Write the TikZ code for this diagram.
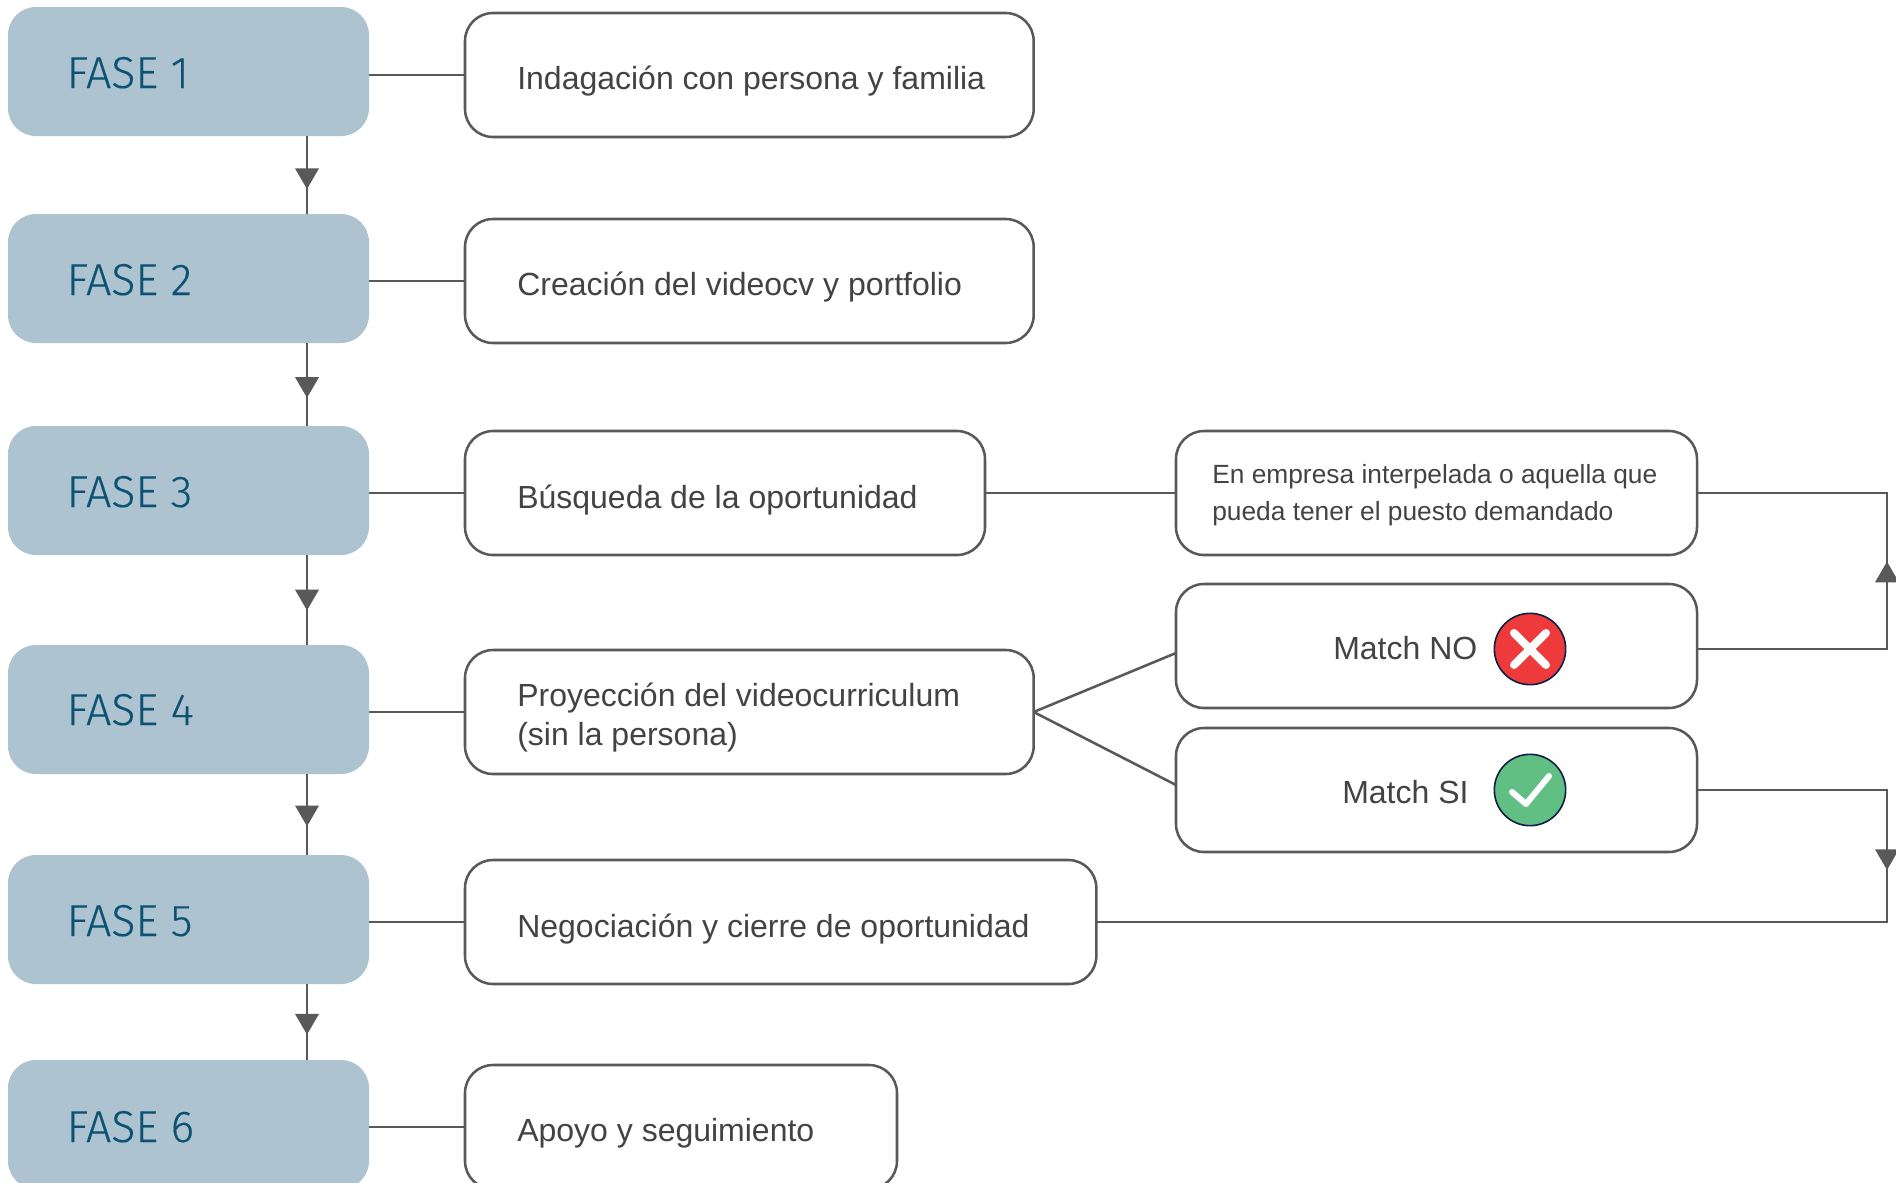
\documentclass[tikz,border=0pt]{standalone}
\usepackage{fontspec}
\setmainfont{Liberation Sans}
\newfontfamily\fasefont[FakeBold=0.2]{Fira Sans Light}
\usetikzlibrary{arrows.meta,decorations.markings}
\definecolor{linecol}{HTML}{595959}
\definecolor{fasefill}{HTML}{ADC3CF}
\definecolor{fasetext}{HTML}{0B5274}
\definecolor{bodytext}{HTML}{434343}
\definecolor{navyring}{HTML}{0F1F45}
\definecolor{nored}{HTML}{EE3A3A}
\definecolor{sigreen}{HTML}{61BF84}
\tikzset{
  x=0.75pt,y=-0.75pt,
  fasebox/.style={rectangle,rounded corners=21pt,fill=fasefill,anchor=north west,inner sep=0pt,outer sep=0pt,minimum width=270.75pt,minimum height=96.75pt},
  whitebox/.style={rectangle,rounded corners=21pt,draw=linecol,line width=1.9pt,fill=white,anchor=north west,inner sep=0pt,outer sep=0pt,minimum height=93pt},
  conn/.style={draw=linecol,line width=1.9pt},
  fasetxt/.style={anchor=base west,inner sep=0pt,text=fasetext,font=\fasefont\fontsize{33.5pt}{38pt}\selectfont},
  bodytxt/.style={anchor=base west,inner sep=0pt,text=bodytext,font=\fontsize{24pt}{30pt}\selectfont},
  smalltxt/.style={anchor=base west,inner sep=0pt,text=bodytext,font=\fontsize{19.75pt}{26pt}\selectfont},
  icon/.style={circle,draw=navyring,line width=1.2pt,minimum size=53.5pt,inner sep=0pt,outer sep=0pt},
  tipat/.style={postaction={decorate},decoration={markings,mark=at position #1 with {\arrow[line width=0pt,fill=linecol,draw=linecol]{Triangle[length=15.5pt,width=18pt]}}}},
}
\begin{document}
\begin{tikzpicture}
\path[use as bounding box,clip] (0,0) rectangle (1896,1182);
\fill[white] (0,0) rectangle (1896,1182);
% phases
\node[fasebox] (f1) at (8,7) {};
\node[fasebox] (f2) at (8,214) {};
\node[fasebox] (f3) at (8,426) {};
\node[fasebox] (f4) at (8,645) {};
\node[fasebox] (f5) at (8,855) {};
\node[fasebox] (f6) at (8,1060) {};
\node[fasetxt] (t1) at (66.5,88) {FASE 1};
\node[fasetxt] (t2) at (66.5,295) {FASE 2};
\node[fasetxt] (t3) at (66.5,507) {FASE 3};
\node[fasetxt] (t4) at (66.5,725) {FASE 4};
\node[fasetxt] (t5) at (66.5,936) {FASE 5};
\node[fasetxt] (t6) at (66.5,1142) {FASE 6};
% white boxes
\node[whitebox,minimum width=426.5pt] (b1) at (465,13) {};
\node[whitebox,minimum width=426.5pt] (b2) at (465,219) {};
\node[whitebox,minimum width=390pt] (b3) at (465,431) {};
\node[whitebox,minimum width=426.5pt] (b4) at (465,650) {};
\node[whitebox,minimum width=473.5pt] (b5) at (465,860) {};
\node[whitebox,minimum width=324pt] (b6) at (465,1065) {};
\node[whitebox,minimum width=390.75pt] (r3) at (1176,431) {};
\node[whitebox,minimum width=390.75pt] (rno) at (1176,584) {};
\node[whitebox,minimum width=390.75pt] (rsi) at (1176,728) {};
% connectors
\foreach \n in {1,...,6}{\draw[conn] (f\n.east |- b\n.west) -- (b\n.west);}
\coordinate (d1a) at (307,136); \coordinate (d1b) at (307,214);
\coordinate (d2a) at (307,343); \coordinate (d2b) at (307,426);
\coordinate (d3a) at (307,555); \coordinate (d3b) at (307,645);
\coordinate (d4a) at (307,774); \coordinate (d4b) at (307,855);
\coordinate (d5a) at (307,984); \coordinate (d5b) at (307,1060);
\draw[conn,tipat=0.68] (d1a) -- (d1b);
\draw[conn,tipat=0.66] (d2a) -- (d2b);
\draw[conn,tipat=0.615] (d3a) -- (d3b);
\draw[conn,tipat=0.645] (d4a) -- (d4b);
\draw[conn,tipat=0.665] (d5a) -- (d5b);
\draw[conn] (b3.east |- r3.west) -- (r3.west);
\coordinate (fan) at (b4.east);
\draw[conn] (fan) -- (1176,653);
\draw[conn] (fan) -- (1176,785);
\coordinate (rr3) at (1887,493);
\coordinate (rrno) at (1887,649);
\coordinate (rrsi) at (1887,790);
\coordinate (rr5) at (1887,922);
\coordinate (rnoe) at (1697,649);
\draw[conn] (r3.east) -- (rr3) -- (rrno) -- (rnoe);
\draw[conn,tipat=0.56] (rrno) -- (rr3);
\draw[conn] (rsi.east) -- (rrsi) -- (rr5) -- (b5.east);
\draw[conn,tipat=0.606] (rrsi) -- (rr5);
% texts
\node[bodytxt] (x1) at (517,89) {Indagación con persona y familia};
\node[bodytxt] (x2) at (517,295) {Creación del videocv y portfolio};
\node[bodytxt] (x3) at (517,508) {Búsqueda de la oportunidad};
\node[bodytxt] (x4a) at (517,706) {Proyección del videocurriculum};
\node[bodytxt] (x4b) at (517,745) {(sin la persona)};
\node[bodytxt] (x5) at (517,937) {Negociación y cierre de oportunidad};
\node[bodytxt] (x6) at (517,1141) {Apoyo y seguimiento};
\node[smalltxt] (y1) at (1212,483) {En empresa interpelada o aquella que};
\node[smalltxt] (y2) at (1212,520) {pueda tener el puesto demandado};
\node[bodytxt] (yn) at (1333,659) {Match NO};
\node[bodytxt] (ys) at (1342,803) {Match SI};
% icons
\node[icon,fill=nored] (ino) at (1530,649) {};
\draw[white,line width=6pt,line cap=round] (1514,633) -- (1546,665);
\draw[white,line width=6pt,line cap=round] (1546,633) -- (1514,665);
\node[icon,fill=sigreen] (isi) at (1530,790) {};
\draw[white,line width=4.5pt,line cap=round,line join=round] (1512,792) -- (1526,804) -- (1549,776);
\end{tikzpicture}
\end{document}
